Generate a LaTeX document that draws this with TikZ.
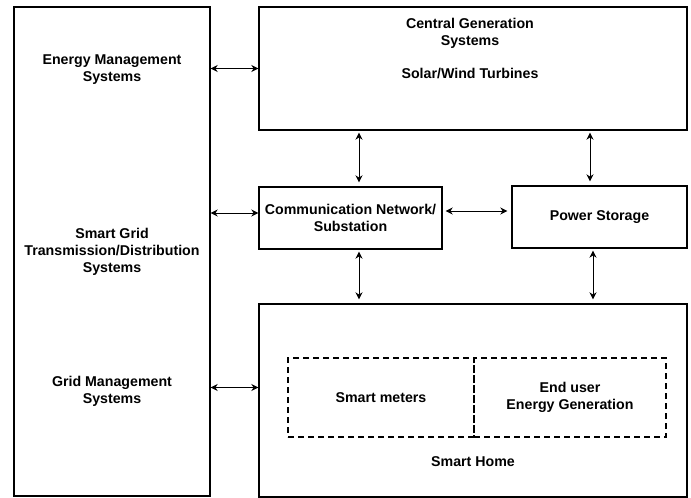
\documentclass[tikz,border=0pt]{standalone}
\usepackage{fontspec}
\setmainfont{Liberation Sans}
\usepackage{tikz}
\usetikzlibrary{arrows.meta, positioning}

\begin{document}
\begin{tikzpicture}[x=1pt, y=-1pt,
    box/.style={rectangle, draw, line width=1.4pt, inner sep=0pt, align=center, font=\fontsize{14.2}{17}\selectfont\bfseries},
    dashbox/.style={box, dash pattern=on 6pt off 4pt},
    lbl/.style={align=center, inner sep=0pt, font=\fontsize{14.2}{17}\selectfont\bfseries},
    arrow/.style={{Stealth[length=7pt,width=7pt]}-{Stealth[length=7pt,width=7pt]}, line width=0.8pt}
]
\useasboundingbox (0,0) rectangle (691,498);

\node[box, minimum width=196pt, minimum height=489pt] (grid) at (112,251.5) {Smart Grid\\Transmission/Distribution\\Systems};
\node[lbl] (ems) at (112,69.5) {Energy Management\\Systems};
\node[lbl] (gms) at (112,391) {Grid Management\\Systems};

\node[box, minimum width=428pt, minimum height=123pt] (central) at (473,68.5) {};
\node[lbl] (cgs) at (470,33.5) {Central Generation\\Systems};
\node[lbl] (solar) at (470,73) {Solar/Wind Turbines};

\node[box, minimum width=183pt, minimum height=62pt] (comm) at (350.5,218) {Communication Network/\\Substation};
\node[box, minimum width=175pt, minimum height=62pt] (storage) at (599.5,217) {Power Storage};

\node[box, minimum width=428pt, minimum height=193pt] (home) at (473,400.5) {};
\node[dashbox, minimum width=186pt, minimum height=79pt] (meters) at (381,397.5) {Smart meters};
\node[dashbox, minimum width=192pt, minimum height=79pt] (enduser) at (570,397.5) {End user\\Energy Generation};
\node[lbl] (homelbl) at (473,462) {Smart Home};

\draw[arrow] (grid.east |- central.west) -- (central.west);
\draw[arrow] ([yshift=5pt]grid.east |- comm.west) -- ([yshift=5pt]comm.west);
\draw[arrow] ([yshift=13pt]grid.east |- home.west) -- ([yshift=13pt]home.west);
\draw[arrow] ([yshift=7pt, xshift=3pt]comm.east) -- ([yshift=7pt, xshift=-4pt]comm.east -| storage.west);
\draw[arrow] ([xshift=8.5pt, yshift=-2pt]comm.north |- central.south) -- ([xshift=8.5pt, yshift=4pt]comm.north);
\draw[arrow] ([xshift=-9.5pt, yshift=-2pt]storage.north |- central.south) -- ([xshift=-9.5pt, yshift=4pt]storage.north);
\draw[arrow] ([xshift=8.5pt, yshift=-2pt]comm.south) -- ([xshift=8.5pt, yshift=4pt]comm.south |- home.north);
\draw[arrow] ([xshift=-6.5pt, yshift=-2pt]storage.south) -- ([xshift=-6.5pt, yshift=4pt]storage.south |- home.north);

\end{tikzpicture}
\end{document}
